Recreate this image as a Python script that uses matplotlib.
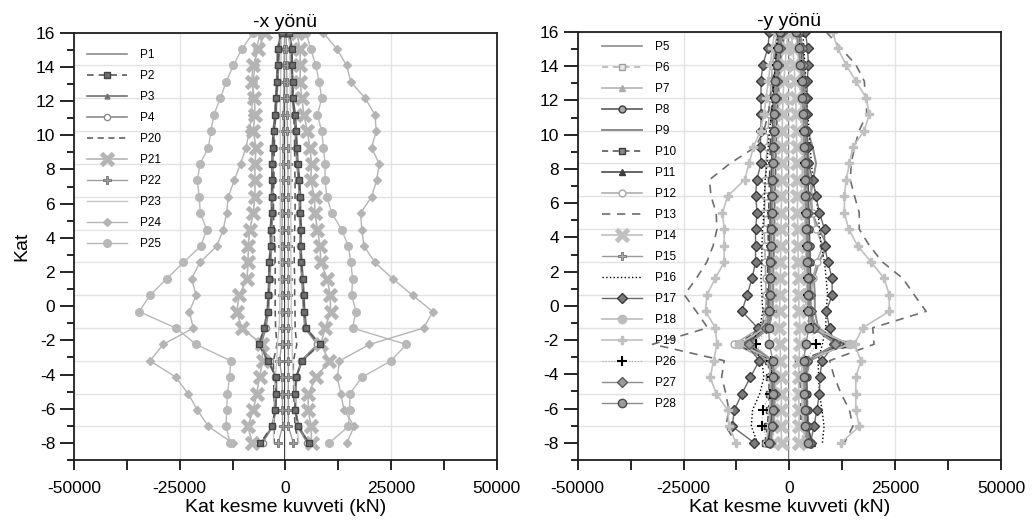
import numpy as np
import matplotlib
matplotlib.use("Agg")
from matplotlib import pyplot as plt
from matplotlib.ticker import MultipleLocator

plt.rcParams['font.family'] = 'Liberation Sans'
plt.rcParams['axes.unicode_minus'] = False

# kat seviyeleri: 26 nokta, grafikte 16'dan -8'e esit aralikli
kat = np.linspace(16, -8, 26)

# ---------------- -x yönü (kN) ----------------
p1_neg = [-800, -1600, -1700, -1900, -2100, -2300, -2700, -2900, -3000, -3000, -3100, -3100, -3300,
          -3300, -3600, -3700, -3900, -4100, -4800, -5900, -3900, -2300, -2200, -2300, -3000, -5500]
p1_pos = [800, 1400, 1500, 1600, 1700, 2200, 2400, 2600, 2800, 3200, 3400, 3400, 3600,
          3500, 3700, 4000, 4200, 4400, 4800, 7800, 3800, 2600, 2300, 2300, 3000, 5300]
p2_neg = [-900, -1800, -1800, -2000, -2200, -2400, -2800, -3000, -3100, -3100, -3200, -3200, -3500,
          -3400, -3800, -3800, -4000, -4200, -5000, -6300, -4100, -2200, -2200, -2400, -3200, -5900]
p2_pos = [900, 1500, 1500, 1700, 1700, 2300, 2500, 2700, 2900, 3300, 3500, 3500, 3700,
          3600, 3800, 4100, 4300, 4500, 4900, 8200, 3900, 2500, 2300, 2300, 3100, 5600]
p3_neg = [-1000, -1900, -1900, -2100, -2300, -2500, -2900, -3100, -3200, -3200, -3300, -3300, -3600,
          -3500, -3900, -3900, -4100, -4300, -5100, -6100, -4200, -2100, -2100, -2300, -3100, -5700]
p3_pos = [1000, 1600, 1600, 1800, 1800, 2400, 2600, 2800, 3000, 3400, 3600, 3600, 3800,
          3700, 3900, 4200, 4400, 4600, 5000, 8000, 4000, 2600, 2400, 2400, 3200, 5500]
p4_neg = [-700, -1500, -1600, -1800, -2000, -2200, -2600, -2800, -2900, -2900, -3000, -3000, -3200,
          -3200, -3500, -3600, -3800, -4000, -4600, -5700, -3700, -2400, -2300, -2500, -3100, -5400]
p4_pos = [700, 1300, 1400, 1600, 1600, 2100, 2300, 2500, 2700, 3100, 3300, 3300, 3500,
          3400, 3600, 3900, 4100, 4300, 4600, 7600, 3700, 2700, 2400, 2400, 2900, 5200]
p20_neg = [-1300, -1500, -1700, -1900, -2100, -2300, -2500, -2600, -2700, -2700, -2800, -2800, -2700,
           -2500, -2400, -2400, -2400, -2400, -2300, -2000, -2800, -2800, -2700, -2700, -2700, -2600]
p20_pos = [1300, 1500, 1600, 1700, 1900, 2000, 2100, 2200, 2200, 2300, 2300, 2300, 2200,
           2100, 2100, 2200, 2200, 2300, 2300, 2700, 1900, 1900, 2000, 2100, 2300, 3100]
p21_neg = [-4800, -6400, -7600, -8000, -7300, -7200, -7600, -6900, -7200, -7200, -7200, -7600, -8400,
           -8800, -8800, -9100, -10900, -11500, -10300, -5500, -5400, -6100, -6800, -7600, -8900, -7800]
p21_pos = [2700, 3500, 3500, 3500, 3900, 4400, 5200, 5800, 6200, 6000, 6900, 7000, 7600,
           8200, 8400, 9900, 10600, 10700, 9400, 8400, 10400, 7300, 5400, 5400, 6100, 6200]
p22_neg = [-200, -250, -300, -350, -400, -450, -500, -550, -600, -650, -700, -750, -800,
           -800, -800, -800, -800, -850, -850, -850, -1400, -800, -700, -700, -650, -1700]
p22_pos = [200, 250, 300, 350, 400, 450, 500, 550, 600, 650, 650, 700, 700,
           700, 700, 700, 700, 700, 700, 700, 700, 700, 700, 700, 700, 1900]
p23_neg = [-900, -1000, -1100, -1100, -1200, -1200, -1200, -1200, -1200, -1200, -1200, -1200, -1200,
           -1200, -1200, -1200, -1300, -1300, -1500, -1900, -2000, -2400, -2600, -2700, -2800, -2800]
p23_pos = [900, 1000, 1100, 1100, 1200, 1200, 1300, 1300, 1300, 1300, 1300, 1300, 1300,
           1300, 1300, 1300, 1400, 1400, 1500, 1600, 1700, 1900, 2200, 2500, 2800, 3100]
p24_neg = [-6000, -6800, -7200, -7600, -7800, -8000, -8500, -9300, -10600, -12100, -13500, -13900, -14700,
           -16200, -20200, -22200, -21100, -22700, -21800, -28900, -32000, -25900, -23000, -20800, -18200, -12500]
p24_pos = [9000, 12200, 14500, 15500, 18900, 21200, 21500, 20400, 22200, 21600, 20400, 17800, 18100,
           18600, 21200, 25400, 30100, 34900, 32700, 19900, 12800, 12300, 13100, 13900, 16300, 14500]
p25_neg = [-7600, -10300, -12300, -14000, -15400, -16900, -17600, -18200, -20200, -20800, -20400, -20100, -18600,
           -20000, -24100, -28100, -32000, -34600, -25900, -21100, -12900, -13200, -13700, -13900, -14000, -13100]
p25_pos = [4900, 6000, 7200, 8000, 8600, 7600, 8600, 9000, 9400, 9400, 9800, 11000, 13300,
           14900, 15500, 15900, 15700, 16700, 15900, 28600, 25000, 18100, 15300, 15200, 14900, 10400]

# ---------------- -y yönü (kN) ----------------
p5_neg = [-1500, -2200, -2600, -2900, -3100, -3300, -3500, -3600, -3700, -3800, -3900, -4000, -4100,
          -4200, -4300, -4400, -4500, -4700, -5600, -10500, -4500, -4100, -4200, -4300, -4500, -5000]
p5_pos = [1500, 2100, 2500, 2800, 3000, 3200, 3300, 3400, 3500, 3600, 3700, 3800, 3900,
          4000, 4100, 4200, 4300, 4500, 5500, 11000, 4200, 3600, 3700, 3800, 4000, 4500]
p6_neg = [-1800, -2500, -2900, -3200, -3400, -3500, -3700, -3800, -3900, -4000, -4100, -4200, -4300,
          -4400, -4500, -4600, -4700, -4900, -6000, -12200, -4300, -3800, -3900, -4000, -4200, -4600]
p6_pos = [1200, 1900, 2300, 2500, 2600, 2700, 2800, 2900, 3000, 3100, 3200, 3300, 3400,
          3500, 3600, 3700, 3800, 3900, 4800, 12000, 2600, 2500, 2600, 2700, 2800, 3300]
p7_neg = [-2000, -2700, -3100, -3400, -3600, -3800, -3900, -4000, -4100, -4200, -4300, -4300, -4400,
          -4500, -4600, -4700, -4800, -5000, -6300, -11500, -4700, -4300, -4300, -4400, -4600, -5200]
p7_pos = [2000, 2600, 3000, 3300, 3500, 3600, 3800, 3900, 4000, 4100, 4200, 4300, 4300,
          4400, 4500, 4600, 4700, 4800, 5700, 13500, 3500, 3200, 3300, 3400, 3600, 4200]
p8_neg = [-2200, -2900, -3300, -3600, -3800, -3900, -4000, -4100, -4200, -4300, -4400, -4500, -4600,
          -4700, -4800, -4800, -4900, -5100, -5000, -10800, -4200, -4000, -4000, -4100, -4400, -5400]
p8_pos = [2500, 3100, 3500, 3700, 3900, 4000, 4100, 4200, 4300, 4400, 4500, 4600, 4700,
          4800, 4900, 5000, 5000, 5100, 6300, 12500, 4300, 4100, 4200, 4300, 4500, 5000]
p9_neg = [-1000, -1700, -2100, -2400, -2600, -2800, -3000, -3100, -3200, -3300, -3400, -3500, -3500,
          -3600, -3700, -3800, -3800, -4000, -4800, -9500, -3800, -3500, -3500, -3600, -3800, -4300]
p9_pos = [1800, 2600, 3100, 3400, 3600, 3800, 4300, 5500, 6300, 5600, 5000, 5300, 7000,
          9000, 7000, 5800, 6000, 6000, 6800, 12800, 4800, 4000, 4000, 4100, 4400, 5200]
p10_neg = [-2600, -3200, -3600, -3900, -4100, -4300, -4400, -4500, -4600, -4700, -4800, -4900, -5000,
           -5000, -5100, -5200, -5300, -5500, -6600, -12400, -5000, -4800, -4800, -4900, -5200, -5800]
p10_pos = [2000, 2600, 3000, 3200, 3400, 3500, 3600, 3700, 3800, 3900, 4000, 4100, 4200,
           4300, 4300, 4400, 4500, 4600, 5200, 13300, 2000, 2400, 2700, 2700, 2800, 4300]
p11_neg = [-1200, -2000, -2400, -2700, -2900, -3100, -3200, -3300, -3400, -3500, -3600, -3700, -3800,
           -3900, -4000, -4100, -4200, -4300, -5200, -9800, -4400, -4000, -3900, -4000, -4300, -5100]
p11_pos = [2200, 2900, 3300, 3600, 3800, 3900, 4000, 4100, 4200, 4300, 4400, 4500, 4600,
           4700, 4800, 4900, 5000, 5100, 6000, 12000, 4000, 3800, 3900, 4000, 4300, 5300]
p12_neg = [-2800, -3500, -4000, -4300, -4600, -4800, -5000, -5300, -5500, -5700, -5800, -5900, -6000,
           -5800, -5700, -5600, -5500, -5600, -6900, -13000, -4800, -4500, -4500, -4600, -4800, -5500]
p12_pos = [2400, 3000, 3300, 3600, 3800, 4000, 4200, 4500, 4700, 4900, 5200, 5500, 6300,
           7900, 6500, 5500, 5200, 5200, 6200, 14000, 3600, 3400, 3500, 3600, 3800, 4600]
p13_neg = [-2500, -3000, -3500, -4000, -4500, -5000, -6000, -8000, -14000, -18900, -18500, -17300, -17100,
           -18000, -19500, -22000, -24800, -22000, -19300, -32300, -15400, -16000, -15000, -14300, -15000, -12600]
p13_pos = [8700, 12200, 15700, 17700, 18000, 18300, 16500, 15400, 14600, 14400, 15400, 16500, 16500,
           18900, 22000, 26800, 29500, 32300, 19700, 20000, 9500, 10600, 12200, 14200, 15000, 13000]
p14_neg = [-300, -700, -1000, -1300, -1500, -1600, -1700, -1700, -1800, -1800, -1900, -1900, -2000,
           -2000, -2100, -2100, -2200, -2300, -2400, -2200, -2100, -2000, -1900, -1900, -2000, -1800]
p14_pos = [400, 800, 1100, 1300, 1500, 1600, 1700, 1700, 1800, 1800, 1900, 1900, 2000,
           2000, 2100, 2200, 2200, 2300, 2500, 2400, 2300, 2200, 2200, 2300, 2300, 2200]
p15_neg = [-1500, -2100, -2500, -2800, -3000, -3200, -3300, -3400, -3500, -3600, -3700, -3700, -3800,
           -3900, -4000, -4000, -4100, -4200, -5400, -9000, -4000, -3800, -3700, -3800, -4000, -4600]
p15_pos = [1800, 2400, 2800, 3100, 3300, 3400, 3500, 3600, 3700, 3800, 3900, 4000, 4100,
           4200, 4300, 4400, 4500, 4600, 5600, 11500, 3800, 3500, 3600, 3700, 3900, 4800]
p16_neg = [-2800, -3000, -3300, -3700, -3900, -4200, -4700, -5000, -5300, -5700, -5900, -6000, -6300,
           -6500, -6500, -6700, -6500, -6300, -7000, -9000, -6500, -6000, -7000, -8700, -9000, -7500]
p16_pos = [3200, 3400, 3700, 3900, 4100, 4300, 4700, 4900, 5200, 5600, 6300, 6800, 7100,
           7500, 8300, 8700, 9000, 8700, 8600, 7800, 6800, 6900, 7100, 7700, 8200, 7800]
p17_neg = [-4700, -5100, -6300, -6700, -6700, -6700, -6700, -6900, -6700, -7700, -8000, -7600, -8000,
           -8000, -8000, -8800, -10000, -11200, -7500, -10200, -7100, -9200, -11200, -13000, -13500, -8300]
p17_pos = [3800, 4300, 4500, 4200, 4200, 4200, 4200, 4300, 4500, 5500, 6300, 7100, 8300,
           8300, 9100, 10100, 10100, 8700, 9500, 10600, 7700, 7200, 7100, 6500, 5800, 5000]
p18_neg = [-2000, -2500, -2800, -3000, -3200, -3300, -3400, -3500, -3600, -3700, -3800, -3900, -4000,
           -4100, -4200, -4300, -4300, -4500, -5800, -11800, -3300, -3200, -3300, -3400, -3600, -4200]
p18_pos = [1500, 2000, 2400, 2700, 2900, 3000, 3100, 3200, 3300, 3400, 3500, 3600, 3700,
           3800, 3900, 4000, 4100, 4200, 5300, 14300, 3000, 2800, 2900, 3000, 3200, 3900]
p19_neg = [-3500, -4000, -4500, -5000, -5500, -6000, -6800, -8500, -9500, -10600, -14600, -15800, -15400,
           -15400, -15400, -17500, -19500, -19800, -17500, -17100, -17900, -18700, -17300, -14600, -14200, -12600]
p19_pos = [10200, 11400, 13400, 15700, 18100, 18900, 17700, 15000, 14200, 13400, 13000, 13000, 14000,
           16100, 19300, 22400, 23600, 23600, 17300, 15400, 16900, 15700, 15700, 15700, 16500, 12200]
p26_neg = [-2100, -2600, -2900, -3200, -3400, -3500, -3600, -3700, -3800, -3900, -4000, -4100, -4200,
           -4300, -4400, -4400, -4500, -4600, -5200, -8000, -4400, -4200, -4600, -6300, -6500, -4800]
p26_pos = [1900, 2400, 2800, 3100, 3300, 3400, 3500, 3600, 3700, 3800, 3900, 4000, 4100,
           4200, 4300, 4400, 4500, 4500, 5000, 6300, 3900, 3700, 3800, 3900, 4100, 4600]
p27_neg = [-1800, -2300, -2700, -3000, -3200, -3400, -3600, -3700, -3800, -3900, -4000, -4100, -4200,
           -4300, -4400, -4500, -4600, -4800, -5500, -9500, -4000, -3600, -3500, -3600, -3800, -4500]
p27_pos = [2300, 2900, 3300, 3500, 3700, 3800, 3900, 4000, 4100, 4200, 4300, 4400, 4500,
           4600, 4700, 4800, 4900, 5000, 5800, 10800, 4100, 3800, 3800, 3900, 4100, 4900]
p28_neg = [-2100, -2600, -3000, -3300, -3500, -3600, -3700, -3800, -3900, -4000, -4100, -4200, -4300,
           -4400, -4500, -4500, -4600, -4700, -4900, -4700, -3900, -3900, -3800, -3900, -4100, -4700]
p28_pos = [1600, 2200, 2600, 2900, 3100, 3300, 3400, 3500, 3600, 3700, 3800, 3900, 4000,
           4100, 4200, 4300, 4400, 4500, 4600, 3900, 3400, 3500, 3500, 3600, 3800, 4300]

dash = (0, (4, 3))

# (etiket, negatif taraf, pozitif taraf, stil)
seriler_x = [
    ("P1", p1_neg, p1_pos, dict(color="#8c8c8c", lw=1.2)),
    ("P2", p2_neg, p2_pos, dict(color="#5a5a5a", ls=dash, lw=1.2, marker="s", ms=5,
                                mfc="#6e6e6e", mec="#444444", mew=1, zorder=3)),
    ("P3", p3_neg, p3_pos, dict(color="#707070", lw=1.2, marker="^", ms=3.5)),
    ("P4", p4_neg, p4_pos, dict(color="#8c8c8c", lw=1.2, marker="o", ms=4.5, mfc="white")),
    ("P20", p20_neg, p20_pos, dict(color="#555555", ls=dash, lw=1.1)),
    ("P21", p21_neg, p21_pos, dict(color="#b4b4b4", lw=1.2, marker="x", ms=9, mew=3.5)),
    ("P22", p22_neg, p22_pos, dict(color="#a0a0a0", lw=1, marker="P", ms=6, mfc="#a0a0a0",
                                   mec="#707070", mew=0.6)),
    ("P23", p23_neg, p23_pos, dict(color="#c4c4c4", lw=1)),
    ("P24", p24_neg, p24_pos, dict(color="#b4b4b4", lw=1, marker="D", ms=4.5)),
    ("P25", p25_neg, p25_pos, dict(color="#b8b8b8", lw=1, marker="o", ms=5.5)),
]

seriler_y = [
    ("P5", p5_neg, p5_pos, dict(color="#8c8c8c", lw=1.2)),
    ("P6", p6_neg, p6_pos, dict(color="#b0b0b0", ls=dash, lw=1.1, marker="s", ms=5,
                                mfc="#e4e4e4", mec="#a0a0a0")),
    ("P7", p7_neg, p7_pos, dict(color="#acacac", lw=1.1, marker="^", ms=4)),
    ("P8", p8_neg, p8_pos, dict(color="#5a5a5a", lw=1.2, marker="o", ms=5, mfc="#a8a8a8",
                                mec="#3c3c3c")),
    ("P9", p9_neg, p9_pos, dict(color="#8c8c8c", lw=1.4)),
    ("P10", p10_neg, p10_pos, dict(color="#4a4a4a", ls=dash, lw=1.1, marker="s", ms=5,
                                   mfc="#8a8a8a", mec="#3a3a3a")),
    ("P11", p11_neg, p11_pos, dict(color="#3c3c3c", lw=1.1, marker="^", ms=4.5)),
    ("P12", p12_neg, p12_pos, dict(color="#a8a8a8", lw=1.1, marker="o", ms=5, mfc="white")),
    ("P13", p13_neg, p13_pos, dict(color="#6e6e6e", ls=(0, (5, 4)), lw=1.2)),
    ("P14", p14_neg, p14_pos, dict(color="#c0c0c0", lw=1.2, marker="x", ms=9, mew=3.5)),
    ("P15", p15_neg, p15_pos, dict(color="#9a9a9a", lw=1, marker="P", ms=6, mfc="#b0b0b0",
                                   mec="#6e6e6e", mew=0.6)),
    ("P16", p16_neg, p16_pos, dict(color="black", ls=":", lw=1)),
    ("P17", p17_neg, p17_pos, dict(color="#6a6a6a", lw=1, marker="D", ms=5, mfc="#7a7a7a",
                                   mec="#3a3a3a")),
    ("P18", p18_neg, p18_pos, dict(color="#bcbcbc", lw=1.2, marker="o", ms=6)),
    ("P19", p19_neg, p19_pos, dict(color="#c0c0c0", lw=1.2, marker="P", ms=6)),
    ("P26", p26_neg, p26_pos, dict(color="#a8a8a8", ls=":", lw=0.8, marker="+", ms=7,
                                   mec="black", mew=1.5)),
    ("P27", p27_neg, p27_pos, dict(color="#8c8c8c", lw=1, marker="D", ms=5.5, mfc="#9c9c9c",
                                   mec="#5a5a5a")),
    ("P28", p28_neg, p28_pos, dict(color="#8c8c8c", lw=1, marker="o", ms=6, mfc="#9c9c9c",
                                   mec="#4a4a4a")),
]


def panel(ax, seriler, baslik, sifir_renk, leg_anchor):
    ax.set_xlim(-50000, 50000)
    ax.set_ylim(-9, 16)
    ax.xaxis.set_major_locator(MultipleLocator(25000))
    ax.xaxis.set_minor_locator(MultipleLocator(12500))
    ax.yaxis.set_major_locator(MultipleLocator(2))
    ax.yaxis.set_minor_locator(MultipleLocator(1))
    ax.tick_params(axis="both", which="both", direction="out", width=1.2, labelsize=12.5,
                   top=False, right=False)
    ax.tick_params(axis="y", which="major", length=10)
    ax.tick_params(axis="y", which="minor", length=5)
    ax.tick_params(axis="x", which="both", length=7, pad=8)
    ax.grid(axis="x", which="major", color="#e2e2e2", lw=1, zorder=0)
    for y in kat[::2]:
        ax.axhline(y, color="#e2e2e2", lw=1, zorder=0)
    ax.axvline(0, color=sifir_renk, lw=1.3, zorder=1)
    for s in ax.spines.values():
        s.set_linewidth(1.3)
        s.set_color("#202020")

    for ad, neg, pos, stil in seriler:
        stil = dict(stil)
        z = stil.pop("zorder", 2)
        ax.plot(neg, kat, label=ad, zorder=z, **stil)
        ax.plot(pos, kat, zorder=z, **stil)

    ax.set_title(baslik, fontsize=14, pad=4)
    ax.set_xlabel("Kat kesme kuvveti (kN)", fontsize=14, labelpad=2)
    leg = ax.legend(loc="upper left", bbox_to_anchor=leg_anchor, frameon=False, fontsize=8.5,
                    handlelength=3.4, handletextpad=1.1, labelspacing=0.76,
                    borderaxespad=0, borderpad=0, numpoints=1)
    leg.set_zorder(1.5)


fig = plt.figure(figsize=(10.32, 5.22), dpi=100)
ax1 = fig.add_axes([0.0717, 0.1188, 0.4096, 0.8186])
ax2 = fig.add_axes([0.5598, 0.1188, 0.4102, 0.8201])

panel(ax1, seriler_x, "-x yönü", "black", (0.03, 0.962))
panel(ax2, seriler_y, "-y yönü", "#555555", (0.057, 0.978))
ax1.set_ylabel("Kat", fontsize=14, labelpad=4)

fig.savefig("out.png", dpi=100)
